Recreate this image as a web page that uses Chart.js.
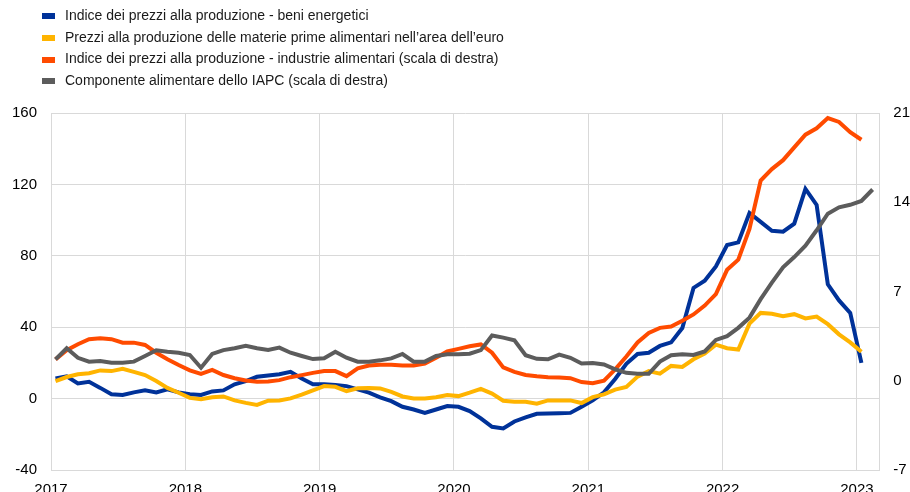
<!DOCTYPE html>
<html>
<head>
<meta charset="utf-8">
<script src="https://cdn.jsdelivr.net/npm/chart.js@4.4.1/dist/chart.umd.min.js"></script>
<style>
html, body { margin: 0; padding: 0; background: #fff; overflow: hidden; }
#wrap { position: relative; width: 910px; height: 510px; }
#legend { position: absolute; left: 42px; top: 5px; font: 14px "Liberation Sans", Arial, sans-serif; color: #1a1a1a; }
.item { height: 21.7px; line-height: 21.7px; white-space: nowrap; }
.box { display: inline-block; width: 13px; height: 6px; margin-right: 10px; vertical-align: middle; }
</style>
</head>
<body>
<div id="wrap">
  <canvas id="chart" width="910" height="510"></canvas>
  <div id="legend"></div>
</div>
<script>
// monthly data, Jan 2017 onwards
const years = [2017, 2018, 2019, 2020, 2021, 2022, 2023];

const labels = [
    'Indice dei prezzi alla produzione - beni energetici',
    'Prezzi alla produzione delle materie prime alimentari nell\u2019area dell\u2019euro',
    'Indice dei prezzi alla produzione - industrie alimentari (scala di destra)',
    'Componente alimentare dello IAPC (scala di destra)'
];

// left axis
const energyPpi = [
    11.3, 12.5, 8.5, 9.4, 6, 2.4, 2, 3.5, 4.6, 3.5, 5.2, 3.5,
    2.4, 2, 4, 4.6, 8, 9.8, 12.2, 13, 13.6, 15, 11.3, 8,
    8, 7.6, 7, 5.2, 3.3, 0.7, -1.4, -4.6, -6.1, -8, -6.1, -4.2,
    -4.6, -7, -11.1, -15.8, -16.7, -12.8, -10.5, -8.5, -8.3, -8.2, -8, -4.5,
    -1, 3.5, 11, 19.5, 25, 25.7, 29.5, 31.5, 39.5, 62, 66, 74,
    86, 87.5, 104, 99, 94, 93.5, 98, 117.5, 108.5, 64, 55, 48,
    20
];
const foodCommodities = [
    9.8, 12.1, 13.6, 14.2, 15.8, 15.4, 16.7, 15, 13.2, 9.8, 6, 3.3,
    0.4, -0.3, 0.8, 1.2, -1, -2.4, -3.5, -1.2, -1, 0.1, 2.2, 4.6,
    7, 6.6, 4.2, 5.8, 6, 5.7, 3.8, 1.2, 0.1, 0.1, 0.8, 2,
    1.4, 3.3, 5.4, 2.8, -1.2, -1.8, -1.8, -2.9, -1, -1, -1, -2.5,
    0.8, 2.4, 5, 6.5, 12.3, 15.4, 14, 18.3, 17.7, 22, 25.3, 30.2,
    28.2, 27.5, 42, 48, 47.5, 46.2, 47.3, 44.9, 46, 41.7, 36, 31.5,
    26.2
];
// right axis
const foodIndustryPpi = [
    1.68, 2.39, 2.86, 3.26, 3.34, 3.26, 2.99, 2.99, 2.81, 2.2, 1.68, 1.23,
    0.81, 0.54, 0.85, 0.45, 0.2, 0.02, -0.08, -0.05, 0.05, 0.28, 0.44, 0.62,
    0.76, 0.76, 0.36, 0.97, 1.2, 1.25, 1.25, 1.2, 1.2, 1.35, 1.8, 2.3,
    2.5, 2.7, 2.85, 2.2, 1.05, 0.7, 0.45, 0.35, 0.28, 0.25, 0.2, -0.1,
    -0.2, 0, 0.9, 1.9, 3, 3.75, 4.15, 4.25, 4.7, 5.2, 5.9, 6.8,
    8.7, 9.5, 11.9, 15.7, 16.6, 17.3, 18.3, 19.3, 19.8, 20.6, 20.3, 19.5,
    18.9
];
const hicpFood = [
    1.68, 2.55, 1.8, 1.5, 1.55, 1.42, 1.42, 1.5, 1.94, 2.39, 2.28, 2.2,
    2.02, 1.02, 2.1, 2.4, 2.55, 2.75, 2.55, 2.42, 2.6, 2.2, 1.94, 1.7,
    1.76, 2.28, 1.81, 1.5, 1.5, 1.6, 1.75, 2.1, 1.5, 1.5, 1.94, 2.07,
    2.07, 2.12, 2.4, 3.55, 3.38, 3.18, 2, 1.72, 1.68, 2.05, 1.8, 1.35,
    1.4, 1.28, 0.9, 0.62, 0.55, 0.55, 1.5, 2, 2.07, 2.02, 2.3, 3.2,
    3.5, 4.15, 4.95, 6.4, 7.7, 8.9, 9.7, 10.6, 11.8, 13.1, 13.6, 13.8,
    14.1, 15
];

const leftTicks = [-40, 0, 40, 80, 120, 160];
const rightTicks = [-7, 0, 7, 14, 21];

const colors = ['#003299', '#ffb400', '#ff4b00', '#5c5c5c'];
const gridColor = '#d9d9d9';

// point sits a bit into its month
const toPoints = (values) => values.map((v, i) => ({ x: i + 0.4, y: v }));

Chart.defaults.font.family = '"Liberation Sans", Arial, Helvetica, sans-serif';
Chart.defaults.font.size = 15;
Chart.defaults.color = '#000000';

const series = [energyPpi, foodCommodities, foodIndustryPpi, hicpFood];
const axisOf = ['y', 'y', 'y1', 'y1'];

const datasets = series.map((values, i) => ({
    label: labels[i],
    data: toPoints(values),
    yAxisID: axisOf[i],
    borderColor: colors[i],
    backgroundColor: colors[i],
    borderWidth: 4,
    pointRadius: 0,
    fill: false,
    tension: 0,
    order: series.length - i
}));

new Chart(document.getElementById('chart'), {
    type: 'line',
    data: { datasets: datasets },
    options: {
        responsive: false,
        animation: false,
        layout: { padding: { top: 113, left: -2, right: -14, bottom: 0 } },
        plugins: { legend: { display: false }, tooltip: { enabled: false } },
        scales: {
            x: {
                type: 'linear',
                min: 0,
                max: 74,
                grid: { color: gridColor, drawTicks: false },
                border: { color: gridColor },
                afterBuildTicks: (axis) => {
                    axis.ticks = years.map(y => ({ value: (y - years[0]) * 12 }));
                },
                ticks: {
                    padding: 11,
                    maxRotation: 0,
                    callback: (v) => String(years[0] + v / 12)
                }
            },
            y: {
                position: 'left',
                min: leftTicks[0],
                max: leftTicks[leftTicks.length - 1],
                grid: { color: gridColor, drawTicks: false },
                border: { color: gridColor },
                afterBuildTicks: (axis) => { axis.ticks = leftTicks.map(v => ({ value: v })); },
                ticks: { padding: 14 }
            },
            y1: {
                position: 'right',
                min: rightTicks[0],
                max: rightTicks[rightTicks.length - 1],
                grid: { drawOnChartArea: false, drawTicks: false },
                border: { color: gridColor },
                afterBuildTicks: (axis) => { axis.ticks = rightTicks.map(v => ({ value: v })); },
                ticks: { padding: 14 }
            }
        }
    }
});

// legend as a plain list, one item per line
const legend = document.getElementById('legend');
datasets.forEach((ds) => {
    const row = document.createElement('div');
    row.className = 'item';
    const box = document.createElement('span');
    box.className = 'box';
    box.style.background = ds.borderColor;
    row.appendChild(box);
    row.appendChild(document.createTextNode(ds.label));
    legend.appendChild(row);
});
</script>
</body>
</html>
